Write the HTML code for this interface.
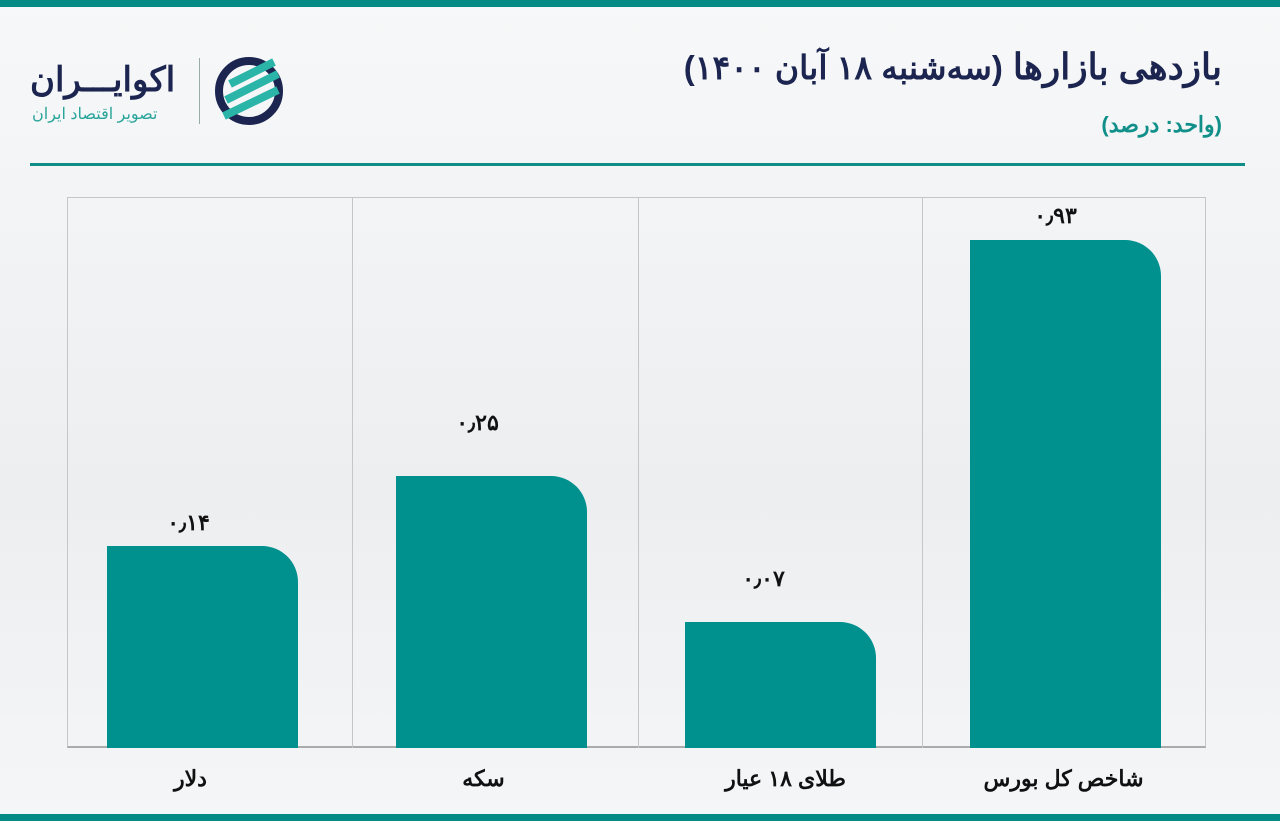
<!DOCTYPE html>
<html><head><meta charset="utf-8"><style>
body{margin:0;width:1280px;height:821px;overflow:hidden;background:linear-gradient(#f7f8f9,#eceef0 60%,#f5f6f7);font-family:"Liberation Sans","Noto Sans CJK SC",sans-serif;position:relative}
.a{position:absolute}
.bar{position:absolute;background:#00908e;border-top-right-radius:36px;width:191px}
.v{position:absolute;font-weight:bold;font-size:22px;color:#111;text-align:center;width:191px}
.l{position:absolute;top:766px;font-weight:bold;font-size:22px;color:#111;text-align:center;width:191px;direction:rtl}
.d{position:absolute;top:197px;height:551px;width:1px;background:#c4c6c8}
</style></head><body>
<div class="a" style="left:0;top:0;width:1280px;height:7px;background:#058a86"></div>
<div class="a" style="left:0;top:814px;width:1280px;height:7px;background:#058a86"></div>
<div class="a" style="left:30px;top:163px;width:1215px;height:3px;background:#0f8d89"></div>
<div class="a" style="right:58px;top:46px;direction:rtl;font-size:36px;font-weight:bold;color:#1b2550;white-space:nowrap">بازدهی بازارها <span style="font-size:33px">(سه‌شنبه ۱۸ آبان ۱۴۰۰)</span></div>
<div class="a" style="right:58px;top:112px;direction:rtl;font-size:22px;font-weight:bold;color:#11908a">(واحد: درصد)</div>
<div class="a" style="left:30px;top:60px;font-size:34px;font-weight:bold;color:#1b2550;direction:rtl">اکوایـــران</div>
<div class="a" style="left:32px;top:104px;font-size:16px;color:#2aa59c;direction:rtl">تصویر اقتصاد ایران</div>
<div class="a" style="left:199px;top:58px;width:1px;height:66px;background:#9aa"></div>
<svg class="a" style="left:212px;top:54px" width="74" height="74" viewBox="0 0 74 74"><circle cx="37" cy="37" r="30" fill="none" stroke="#1b2550" stroke-width="8"/><g stroke="#2bb5a8" stroke-width="8"><line x1="18" y1="30" x2="62" y2="8"/><line x1="14" y1="46" x2="66" y2="20"/><line x1="12" y1="62" x2="66" y2="36"/></g></svg>
<div class="a" style="left:67px;top:197px;width:1139px;height:551px;border:1px solid #c4c6c8;border-bottom:2px solid #a9abad;box-sizing:border-box"></div>
<div class="d" style="left:352px"></div><div class="d" style="left:638px"></div><div class="d" style="left:922px"></div>
<div class="bar" style="left:107px;top:546px;height:202px"></div>
<div class="bar" style="left:396px;top:476px;height:272px"></div>
<div class="bar" style="left:685px;top:622px;height:126px"></div>
<div class="bar" style="left:970px;top:240px;height:508px"></div>
<div class="v" style="left:93px;top:510px">۰٫۱۴</div>
<div class="v" style="left:382px;top:410px">۰٫۲۵</div>
<div class="v" style="left:668px;top:566px">۰٫۰۷</div>
<div class="v" style="left:960px;top:203px">۰٫۹۳</div>
<div class="l" style="left:95px">دلار</div>
<div class="l" style="left:388px">سکه</div>
<div class="l" style="left:690px">طلای ۱۸ عیار</div>
<div class="l" style="left:968px">شاخص کل بورس</div>
</body></html>
